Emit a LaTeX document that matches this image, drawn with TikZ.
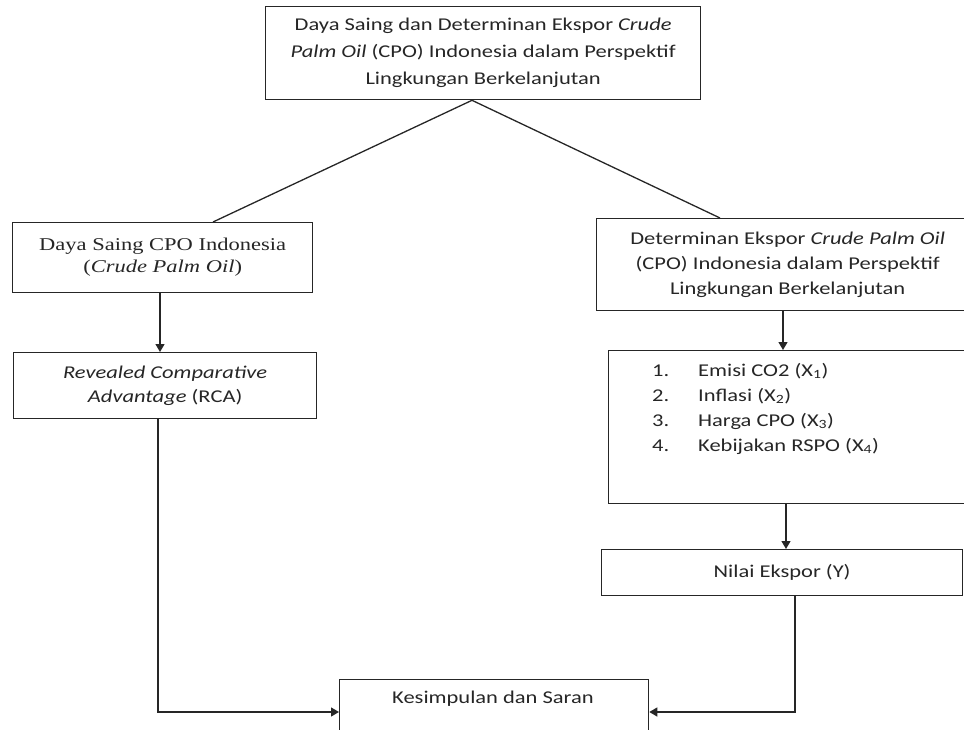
\documentclass[tikz,border=0pt]{standalone}
\usepackage{fontspec}
\setmainfont{Carlito}[FakeStretch=1.25]
\newfontfamily\timesfont{Liberation Serif}[FakeStretch=1.25]
\usetikzlibrary{arrows.meta}

\begin{document}
\begin{tikzpicture}[x=1pt, y=-1pt,
  every node/.style={font=\fontsize{18}{27}\selectfont, text=black!85},
  box/.style={draw=black!85, line width=1.3pt, inner sep=0pt, anchor=north west, align=center},
  txt/.style={inner sep=0pt, align=left},
  lin/.style={draw=black!85, line width=1.3pt},
  arr/.style={lin, -{Triangle[length=8pt,width=9pt]}}]
\useasboundingbox (0,0) rectangle (964,730);
\clip (0,0) rectangle (964,730);

\node[box, minimum width=435pt, minimum height=93pt] (judul) at (265,6) {Daya Saing dan Determinan Ekspor \textit{Crude}\\ \textit{Palm Oil} (CPO) Indonesia dalam Perspektif\\ Lingkungan Berkelanjutan};

\node[box, minimum width=300pt, minimum height=70pt, font=\timesfont\fontsize{18}{22}\selectfont] (dayasaing) at (12,222) {Daya Saing CPO Indonesia\\ (\textit{Crude Palm Oil})};
\node[box, minimum width=303pt, minimum height=66pt, font=\fontsize{18}{24}\selectfont] (rca) at (13,352) {\textit{Revealed Comparative}\\ \textit{Advantage} (RCA)};

\node[box, minimum width=382pt, minimum height=92pt, font=\fontsize{18}{25}\selectfont] (determinan) at (596,218) {Determinan Ekspor \textit{Crude Palm Oil}\\ (CPO) Indonesia dalam Perspektif\\ Lingkungan Berkelanjutan};
\node[box, minimum width=400pt, minimum height=153pt] (variabel) at (608,350) {};
\node[txt, anchor=north west, font=\fontsize{18}{25}\selectfont] (daftar) at (652,363) {\makebox[46pt][l]{1.}Emisi CO2 (X\textsubscript{1})\\ \makebox[46pt][l]{2.}Inflasi (X\textsubscript{2})\\ \makebox[46pt][l]{3.}Harga CPO (X\textsubscript{3})\\ \makebox[46pt][l]{4.}Kebijakan RSPO (X\textsubscript{4})};
\node[box, minimum width=361pt, minimum height=46pt] (nilai) at (601,549) {Nilai Ekspor (Y)};

\node[box, minimum width=309pt, minimum height=80pt] (simpulan) at (339,679) {};
\node[txt] (saran) at (493,699) {Kesimpulan dan Saran};

\draw[lin] (judul.south -| 472,0) -- (dayasaing.north -| 213,0);
\draw[lin] (judul.south -| 472,0) -- (determinan.north -| 720,0);
\draw[arr] (dayasaing.south -| 160,0) -- (rca.north -| 160,0);
\draw[arr] (determinan.south -| 783,0) -- (variabel.north -| 783,0);
\draw[arr] (variabel.south -| 786,0) -- (nilai.north -| 786,0);
\draw[arr] (rca.south -| 158,0) |- (simpulan.west |- 0,712);
\draw[arr] (nilai.south -| 795,0) |- (simpulan.east |- 0,712);
\end{tikzpicture}
\end{document}
